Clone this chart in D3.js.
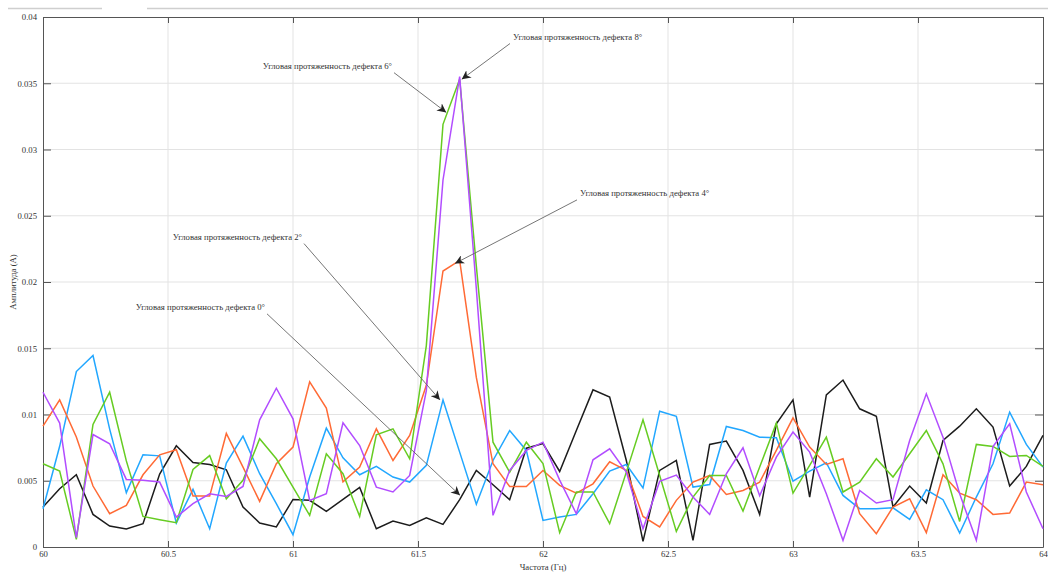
<!DOCTYPE html>
<html>
<head>
<meta charset="utf-8">
<script src="https://cdn.jsdelivr.net/npm/d3@7"></script>
<style>
  body { margin: 0; background: #fff; }
  svg { display: block; }
  svg text { font-family: "Liberation Serif", "Times New Roman", serif; }
</style>
</head>
<body>
<div id="chart"></div>
<script>
const width = 1048;
const height = 572;

// frequency grid: 60 .. 64 Hz, step 1/15 Hz
const freqStart = 60;
const freqStep = 1 / 15;

// amplitudes in mA (scaled to A below)
const amp0 = [3.02, 4.4, 5.45, 2.46, 1.58, 1.36, 1.76, 5.5, 7.64, 6.38, 6.23, 5.83, 3.02, 1.81, 1.51, 3.59, 3.52, 2.69, 3.59, 4.5,
  1.38, 1.96, 1.63, 2.21, 1.71, 3.57, 5.78, 4.7, 3.57, 7.46, 7.8, 5.7, 8.79, 11.86, 11.31, 6.53, 0.43, 5.78, 6.53, 0.5,
  7.74, 7.99, 5.78, 2.46, 9.3, 11.1, 3.77, 11.48, 12.6, 10.43, 9.87, 3.02, 4.6, 3.32, 8.04, 9.12, 10.43, 9.05, 4.6, 6.08, 8.42];
const amp2 = [2.89, 7.6, 13.24, 14.45, 8.9, 4.1, 6.96, 6.88, 1.81, 4.35, 1.38, 6.33, 8.37, 5.53, 3.27, 0.93, 5.28, 8.97, 6.73, 5.45,
  6.08, 5.28, 4.9, 6.16, 11.1, 7.16, 3.22, 6.53, 8.79, 7.29, 2.01, 2.26, 2.46, 4.02, 5.73, 6.23, 4.45, 10.25, 9.87, 4.52,
  4.72, 9.1, 8.79, 8.29, 8.24, 4.97, 5.73, 6.36, 3.89, 2.89, 2.89, 2.96, 2.09, 4.32, 3.57, 1.06, 3.77, 6.28, 10.18, 7.74, 6.03];
const amp4 = [9.12, 11.1, 8.3, 4.6, 2.51, 3.14, 5.45, 6.96, 7.34, 3.84, 3.84, 8.57, 6.03, 3.44, 6.28, 7.54, 12.46, 10.48, 4.92, 6.03,
  8.92, 6.53, 8.42, 12.2, 20.83, 21.63, 12.8, 6.28, 4.57, 4.57, 5.78, 4.65, 4.07, 4.77, 6.43, 5.78, 2.31, 1.51, 3.52, 4.9,
  5.4, 3.97, 4.27, 4.9, 7.29, 9.75, 7.54, 6.23, 6.66, 2.51, 1.0, 3.02, 3.64, 1.08, 5.45, 4.07, 3.57, 2.46, 2.56, 4.9, 4.7];
const amp6 = [6.28, 5.73, 0.58, 9.25, 11.68, 6.5, 2.31, 2.06, 1.83, 5.85, 6.9, 3.64, 5.03, 8.17, 6.66, 4.52, 2.39, 7.04, 5.53, 2.31,
  8.47, 8.92, 6.66, 15.2, 31.9, 35.3, 21.2, 7.91, 5.65, 7.91, 6.3, 1.08, 4.15, 4.15, 1.76, 5.65, 9.6, 5.4, 1.18, 3.77,
  5.4, 5.4, 2.71, 6.03, 9.35, 4.07, 6.16, 8.29, 4.15, 4.9, 6.66, 5.28, 7.04, 8.79, 6.28, 1.93, 7.74, 7.59, 6.83, 6.91, 6.08];
const amp8 = [11.68, 9.35, 0.7, 8.49, 7.79, 5.1, 5.03, 4.9, 2.26, 3.27, 4.02, 3.82, 4.57, 9.6, 11.98, 9.67, 3.52, 4.02, 9.37, 7.66,
  4.52, 4.15, 5.4, 11.8, 27.7, 35.5, 19.5, 2.39, 5.78, 7.29, 7.91, 5.05, 2.51, 6.58, 7.41, 5.65, 1.38, 4.95, 5.43, 3.77,
  2.46, 5.53, 7.49, 3.87, 6.78, 8.67, 7.16, 4.02, 0.5, 4.27, 3.32, 3.57, 8.04, 11.56, 8.29, 4.02, 0.5, 7.59, 9.3, 4.15, 1.38];

const seriesNames = ["0°", "2°", "4°", "6°", "8°"];
const seriesColors = ["#1c1c1c", "#22a7ff", "#ff6a35", "#66cc22", "#b24dff"];
const seriesValues = [amp0, amp2, amp4, amp6, amp8];

const xTicks = [60, 60.5, 61, 61.5, 62, 62.5, 63, 63.5, 64];
const yTicks = [0, 0.005, 0.01, 0.015, 0.02, 0.025, 0.03, 0.035, 0.04];

// annotations: label, arrow tip (Hz, A), text anchor point (Hz, A)
const notes = [
  { text: "Угловая протяженность дефекта 8°", tip: [61.675, 0.0353], at: [61.88, 0.0383], anchor: "start" },
  { text: "Угловая протяженность дефекта 6°", tip: [61.613, 0.0328], at: [61.396, 0.0361], anchor: "end" },
  { text: "Угловая протяженность дефекта 4°", tip: [61.648, 0.0214], at: [62.148, 0.0265], anchor: "start" },
  { text: "Угловая протяженность дефекта 2°", tip: [61.588, 0.0111], at: [61.036, 0.0232], anchor: "end" },
  { text: "Угловая протяженность дефекта 0°", tip: [61.668, 0.0039], at: [60.888, 0.0179], anchor: "end" }
];

const fontSize = 8.7;
const margin = { top: 17, right: 5, bottom: 25, left: 43 };

const x = d3.scaleLinear().domain([60, 64]).range([margin.left, width - margin.right]);
const y = d3.scaleLinear().domain([0, 0.04]).range([height - margin.bottom, margin.top]);

const svg = d3.select("#chart").append("svg")
  .attr("width", width)
  .attr("height", height);

// faint toolbar remnants at the very top
svg.append("line").attr("x1", 8).attr("x2", 102).attr("y1", 8.5).attr("y2", 8.5)
  .attr("stroke", "#cfcfcf").attr("stroke-width", 1.5);
svg.append("line").attr("x1", 147).attr("x2", 1048).attr("y1", 8.5).attr("y2", 8.5)
  .attr("stroke", "#cfcfcf").attr("stroke-width", 1.5);

// grid
svg.append("g").selectAll("line").data(xTicks.slice(1, -1)).join("line")
  .attr("x1", d => x(d)).attr("x2", d => x(d))
  .attr("y1", y(0)).attr("y2", y(0.04))
  .attr("stroke", "#e3e3e3").attr("stroke-width", 1);
svg.append("g").selectAll("line").data(yTicks.slice(1, -1)).join("line")
  .attr("x1", x(60)).attr("x2", x(64))
  .attr("y1", d => y(d)).attr("y2", d => y(d))
  .attr("stroke", "#e3e3e3").attr("stroke-width", 1);

// axes
const axisStyle = g => {
  g.attr("font-family", null);
  g.select(".domain").attr("stroke", "#555");
  g.selectAll(".tick line").attr("stroke", "#555");
  g.selectAll(".tick text").attr("fill", "#333").attr("font-size", fontSize);
};
svg.append("g").attr("transform", `translate(0,${y(0)})`)
  .call(d3.axisBottom(x).tickValues(xTicks).tickFormat(d3.format("")).tickSizeInner(-6).tickSizeOuter(0).tickPadding(4))
  .call(axisStyle);
svg.append("g").attr("transform", `translate(0,${y(0.04)})`)
  .call(d3.axisTop(x).tickValues(xTicks).tickFormat("").tickSizeInner(-6).tickSizeOuter(0))
  .call(axisStyle);
svg.append("g").attr("transform", `translate(${x(60)},0)`)
  .call(d3.axisLeft(y).tickValues(yTicks).tickFormat(d3.format("")).tickSizeInner(-8).tickSizeOuter(0).tickPadding(6))
  .call(axisStyle);
svg.append("g").attr("transform", `translate(${x(64)},0)`)
  .call(d3.axisRight(y).tickValues(yTicks).tickFormat("").tickSizeInner(-8).tickSizeOuter(0))
  .call(axisStyle);

// axis titles
svg.append("text")
  .attr("x", x(62)).attr("y", height - 2.5)
  .attr("text-anchor", "middle").attr("font-size", fontSize).attr("fill", "#333")
  .text("Частота (Гц)");
svg.append("text")
  .attr("transform", `translate(16,${y(0.02)}) rotate(-90)`)
  .attr("text-anchor", "middle").attr("font-size", fontSize).attr("fill", "#333")
  .text("Амплитуда (А)");

// series lines
const line = d3.line()
  .x((d, i) => x(freqStart + i * freqStep))
  .y(d => y(d / 1000));

svg.append("g").selectAll("path").data(seriesValues).join("path")
  .attr("d", d => line(d))
  .attr("fill", "none")
  .attr("stroke", (d, i) => seriesColors[i])
  .attr("stroke-width", 1.5)
  .attr("stroke-linejoin", "miter");

// arrow marker
svg.append("defs").append("marker")
  .attr("id", "arrow")
  .attr("viewBox", "0 0 10 10")
  .attr("refX", 10).attr("refY", 5)
  .attr("markerWidth", 9).attr("markerHeight", 9)
  .attr("markerUnits", "userSpaceOnUse")
  .attr("orient", "auto")
  .append("path")
  .attr("d", "M0,0 L10,5 L0,10 L3,5 Z")
  .attr("fill", "#222");

const ann = svg.append("g");
notes.forEach(n => {
  const tx = x(n.at[0]), ty = y(n.at[1]);
  ann.append("text")
    .attr("x", tx).attr("y", ty)
    .attr("text-anchor", n.anchor)
    .attr("font-size", fontSize).attr("fill", "#333")
    .text(n.text);
  ann.append("line")
    .attr("x1", n.anchor === "start" ? tx - 3 : tx + 2)
    .attr("y1", ty + 4)
    .attr("x2", x(n.tip[0])).attr("y2", y(n.tip[1]))
    .attr("stroke", "#666").attr("stroke-width", 0.9)
    .attr("marker-end", "url(#arrow)");
});
</script>
</body>
</html>
